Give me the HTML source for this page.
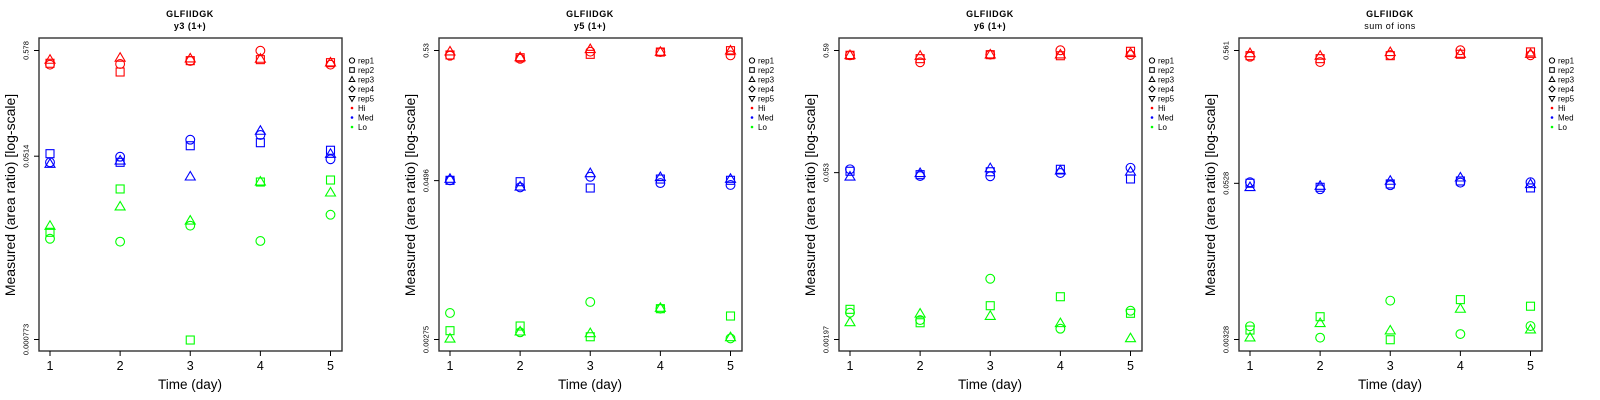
<!DOCTYPE html>
<html><head><meta charset="utf-8"><style>
html,body{margin:0;padding:0;background:#fff;}
svg{display:block;font-family:"Liberation Sans",sans-serif;}
</style></head><body>
<svg id="chart" width="1600" height="400" viewBox="0 0 1600 400" xmlns="http://www.w3.org/2000/svg"></svg>
<script>
// Panel metadata
const panelTitles = ["GLFIIDGK","GLFIIDGK","GLFIIDGK","GLFIIDGK"];
const panelSubtitles = ["y3 (1+)","y5 (1+)","y6 (1+)","sum of ions"];
const yTickLabels = [["0.000773","0.0514","0.578"],["0.00275","0.0496","0.53"],["0.00197","0.053","0.59"],["0.00328","0.0528","0.561"]];
const yTickValues = [[0.000773,0.0514,0.578],[0.00275,0.0496,0.53],[0.00197,0.053,0.59],[0.00328,0.0528,0.561]];
const days = [1,2,3,4,5];
const levels = ["Hi","Med","Lo"];
const reps = ["rep1","rep2","rep3"];
// log10(area ratio): [panel][level][rep][day]
const p1Hi  = [[-0.379,-0.372,-0.342,-0.240,-0.379],[-0.365,-0.452,-0.339,-0.329,-0.359],[-0.332,-0.312,-0.319,-0.322,-0.359]];
const p1Med = [[-1.350,-1.294,-1.125,-1.078,-1.320],[-1.264,-1.350,-1.185,-1.155,-1.230],[-1.367,-1.334,-1.493,-1.038,-1.267]];
const p1Lo  = [[-2.110,-2.139,-1.980,-2.132,-1.871],[-2.046,-1.615,-3.117,-1.546,-1.526],[-1.983,-1.791,-1.931,-1.543,-1.652]];
const p2Hi  = [[-0.317,-0.341,-0.285,-0.288,-0.314],[-0.311,-0.333,-0.306,-0.288,-0.277],[-0.285,-0.330,-0.266,-0.288,-0.277]];
const p2Med = [[-1.302,-1.358,-1.274,-1.324,-1.339],[-1.302,-1.313,-1.363,-1.292,-1.302],[-1.292,-1.353,-1.247,-1.278,-1.292]];
const p2Lo  = [[-2.351,-2.504,-2.264,-2.317,-2.552],[-2.491,-2.454,-2.539,-2.317,-2.375],[-2.555,-2.499,-2.512,-2.312,-2.544]];
const p3Hi  = [[-0.270,-0.330,-0.265,-0.227,-0.268],[-0.270,-0.299,-0.265,-0.274,-0.236],[-0.270,-0.276,-0.265,-0.265,-0.253]];
const p3Med = [[-1.247,-1.305,-1.307,-1.279,-1.234],[-1.264,-1.293,-1.268,-1.247,-1.330],[-1.311,-1.281,-1.239,-1.259,-1.268]];
const p3Lo  = [[-2.476,-2.539,-2.185,-2.613,-2.459],[-2.447,-2.562,-2.416,-2.339,-2.481],[-2.559,-2.485,-2.505,-2.567,-2.696]];
const p4Hi  = [[-0.299,-0.340,-0.286,-0.249,-0.288],[-0.291,-0.314,-0.291,-0.280,-0.262],[-0.273,-0.293,-0.265,-0.278,-0.278]];
const p4Med = [[-1.269,-1.323,-1.292,-1.272,-1.269],[-1.277,-1.308,-1.282,-1.259,-1.313],[-1.308,-1.298,-1.259,-1.234,-1.285]];
const p4Lo  = [[-2.382,-2.470,-2.184,-2.442,-2.380],[-2.411,-2.308,-2.486,-2.176,-2.227],[-2.470,-2.359,-2.416,-2.248,-2.408]];
const panelData = [[p1Hi,p1Med,p1Lo],[p2Hi,p2Med,p2Lo],[p3Hi,p3Med,p3Lo],[p4Hi,p4Med,p4Lo]];
const levelColors = ["#ff0000","#0000ff","#00ff00"];
const legendLabels = ["rep1","rep2","rep3","rep4","rep5","Hi","Med","Lo"];

const NS="http://www.w3.org/2000/svg";
const svg=document.getElementById('chart');
function mk(tag,attrs,parent){const e=document.createElementNS(NS,tag);for(const k in attrs)e.setAttribute(k,attrs[k]);parent.appendChild(e);return e;}

const box={l:39,r:342,t:38,b:351};
const xScale=d=>50+(d-1)*(330.5-50)/4;
function makeY(p){const lo=Math.log10(yTickValues[p][0]),hi=Math.log10(yTickValues[p][2]);return lv=>339.5-(lv-lo)/(hi-lo)*289;}

function marker(g,shape,cx,cy,color){
  let el;
  if(shape===0){el=mk('circle',{cx:cx,cy:cy,r:4.4,fill:'none',stroke:color,'stroke-width':1.1},g);}
  else if(shape===1){el=mk('rect',{x:cx-4,y:cy-4,width:8,height:8,fill:'none',stroke:color,'stroke-width':1.1},g);}
  else {el=mk('polygon',{points:`${cx},${cy-5.2} ${cx-5},${cy+3.3} ${cx+5},${cy+3.3}`,fill:'none',stroke:color,'stroke-width':1.1},g);}
  return el;
}

for(let p=0;p<4;p++){
  const g=mk('g',{transform:`translate(${p*400},0)`},svg);
  
  
  const yS=makeY(p);
  const t1=mk('text',{x:190,y:17,'text-anchor':'middle','font-size':9,'font-weight':'bold','letter-spacing':'0.6'},g);t1.textContent=panelTitles[p];
  
  
  const t2=mk('text',{x:190,y:29,'text-anchor':'middle','font-size':9,'font-weight':p===3?'normal':'bold','letter-spacing':'0.5'},g);t2.textContent=panelSubtitles[p];
  
  
  const bx=mk('rect',{x:box.l,y:box.t,width:box.r-box.l,height:box.b-box.t,fill:'none',stroke:'#333','stroke-width':1.4},g);
  
  
  // y ticks
  for(let i=0;i<3;i++){
    const y=yS(Math.log10(yTickValues[p][i]));
    const tk=mk('line',{x1:box.l,x2:box.l-5,y1:y,y2:y,stroke:'#000','stroke-width':1},g);
    
    
    const tl=mk('text',{x:0,y:0,transform:`translate(28.5,${y}) rotate(-90)`,'text-anchor':'middle','font-size':7.5},g);
    tl.textContent=yTickLabels[p][i];
    
    
  }
  for(const d of days){
    const x=xScale(d);
    const tk=mk('line',{x1:x,x2:x,y1:box.b,y2:box.b+5,stroke:'#000','stroke-width':1},g);
    
    
    const tl=mk('text',{x:x,y:370,'text-anchor':'middle','font-size':12.5},g);tl.textContent=d;
    
    
  }
  const xt=mk('text',{x:190,y:389,'text-anchor':'middle','font-size':13.5},g);xt.textContent='Time (day)';
  
  
  const yt=mk('text',{x:0,y:0,transform:'translate(15,195) rotate(-90)','text-anchor':'middle','font-size':14},g);yt.textContent='Measured (area ratio) [log-scale]';
  
  
  // points
  for(let l=0;l<3;l++)for(let r=0;r<3;r++)for(let di=0;di<days.length;di++){
    const m=marker(g,r,xScale(days[di]),yS(panelData[p][l][r][di]),levelColors[l]);
    
    
  }
  // legend
  const lg=mk('g',{},g);
  
  
  for(let i=0;i<legendLabels.length;i++){
    const y=60.5+i*9.5;
    const sx=352;
    let s;
    if(i===0)s=mk('circle',{cx:sx,cy:y,r:2.6,fill:'none',stroke:'#000','stroke-width':1},lg);
    else if(i===1)s=mk('rect',{x:sx-2.3,y:y-2.3,width:4.6,height:4.6,fill:'none',stroke:'#000','stroke-width':1},lg);
    else if(i===2)s=mk('polygon',{points:`${sx},${y-3} ${sx-2.8},${y+2} ${sx+2.8},${y+2}`,fill:'none',stroke:'#000','stroke-width':1},lg);
    else if(i===3)s=mk('polygon',{points:`${sx},${y-3} ${sx-3},${y} ${sx},${y+3} ${sx+3},${y}`,fill:'none',stroke:'#000','stroke-width':1},lg);
    else if(i===4)s=mk('polygon',{points:`${sx},${y+3} ${sx-2.8},${y-2} ${sx+2.8},${y-2}`,fill:'none',stroke:'#000','stroke-width':1},lg);
    else s=mk('circle',{cx:sx,cy:y,r:1.3,fill:levelColors[i-5]},lg);
    
    
    const tx=mk('text',{x:358,y:y+3,'font-size':8},lg);tx.textContent=legendLabels[i];
    
    
  }
}
</script>
</body></html>
